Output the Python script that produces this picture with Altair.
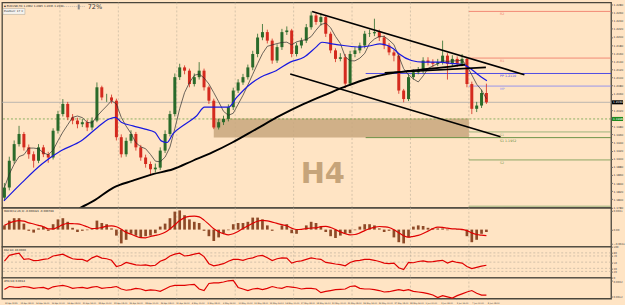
import altair as alt
import pandas as pd

# ---------------- data (prices in points of 0.0001) ----------------
first_open = 11804
closes = [11829, 11895, 11936, 11961, 11928, 11911, 11895, 11928, 11911, 11903,
          11969, 12010, 12035, 12002, 11994, 11985, 11990, 11977, 11994, 12076,
          12051, 12051, 12043, 11953, 11911, 11944, 11961, 11928, 11903, 11887,
          11874, 11878, 11920, 11961, 12010, 12101, 12125, 12117, 12084, 12101,
          12117, 12076, 12043, 11977, 11990, 11998, 12027, 12068, 12088, 12101,
          12125, 12158, 12199, 12212, 12191, 12142, 12175, 12212, 12216, 12158,
          12179, 12191, 12224, 12253, 12237, 12249, 12208, 12167, 12146, 12150,
          12085, 12158, 12167, 12179, 12208, 12209, 12212, 12199, 12179, 12162,
          12154, 12068, 12047, 12101, 12113, 12117, 12142, 12138, 12134, 12138,
          12154, 12134, 12146, 12134, 12146, 12084, 12023, 12031, 12062, 12039]
highs = [11840, 11905, 11945, 11981, 11966, 11935, 11918, 11936, 11934, 11917,
         11975, 12018, 12047, 12040, 12010, 12001, 11998, 11996, 12002, 12088,
         12080, 12060, 12058, 12048, 11960, 11952, 11970, 11966, 11934, 11910,
         11893, 11888, 11928, 11970, 12018, 12110, 12134, 12130, 12122, 12110,
         12138, 12122, 12080, 12048, 11998, 12006, 12034, 12075, 12096, 12109,
         12132, 12166, 12208, 12232, 12218, 12196, 12182, 12220, 12226, 12220,
         12186, 12198, 12232, 12263, 12258, 12258, 12254, 12213, 12172, 12160,
         12158, 12166, 12175, 12186, 12215, 12218, 12245, 12218, 12204, 12185,
         12168, 12158, 12072, 12108, 12120, 12126, 12150, 12150, 12145, 12146,
         12191, 12160, 12155, 12152, 12158, 12150, 12090, 12040, 12070, 12085]
lows = [11796, 11822, 11888, 11930, 11920, 11900, 11878, 11889, 11904, 11890,
        11898, 11962, 12004, 11995, 11985, 11975, 11978, 11968, 11970, 11990,
        12044, 12040, 12036, 11945, 11903, 11905, 11938, 11920, 11895, 11878,
        11862, 11866, 11872, 11914, 11955, 12004, 12094, 12108, 12076, 12078,
        12095, 12068, 12035, 11973, 11972, 11983, 11992, 12020, 12062, 12082,
        12095, 12118, 12150, 12192, 12184, 12134, 12136, 12168, 12205, 12150,
        12152, 12172, 12185, 12218, 12230, 12228, 12200, 12160, 12138, 12140,
        12074, 12080, 12150, 12160, 12172, 12200, 12202, 12190, 12170, 12155,
        12140, 12060, 12039, 12042, 12095, 12108, 12110, 12130, 12126, 12128,
        12132, 12095, 12128, 12126, 12128, 12076, 12010, 12015, 12025, 12035]

blue_ma_bar = [-0.1, 3.6, 7.7, 11.7, 15.8, 19.1, 21.5, 22.8, 24.0, 26.4, 28.9, 30.9, 32.2, 33.4,
               34.6, 37.1, 39.5, 41.1, 43.6, 46.0, 47.7, 50.1, 52.6, 55.8, 58.7, 61.5, 64.0,
               65.2, 67.3, 69.7, 73.0, 75.4, 77.1, 78.7, 79.9, 81.1, 83.6, 86.0, 89.3, 91.7,
               94.2, 95.4, 97.1, 99.1]
blue_ma_val = [11796, 11841, 11887, 11920, 11944, 11977, 11998, 12002, 11990, 11981, 11973,
               11965, 11944, 11940, 11961, 11985, 12006, 12027, 12027, 12027, 12051, 12080,
               12101, 12117, 12138, 12150, 12175, 12187, 12183, 12179, 12175, 12179, 12183,
               12179, 12171, 12158, 12142, 12138, 12138, 12135, 12132, 12125, 12109, 12092]
black_ma_bar = [15.4, 18.3, 22.4, 26.4, 30.5, 34.6, 38.7, 42.8, 46.8, 51.7, 56.6, 61.5, 66.4,
                70.5, 74.6, 78.7, 82.8, 86.8, 90.1, 93.4, 94.6]
black_ma_val = [11778, 11796, 11829, 11846, 11862, 11874, 11895, 11916, 11940, 11973, 12006,
                12035, 12060, 12080, 12097, 12109, 12116, 12121, 12125, 12130, 12132]

macd_hist = [7, 15, 19, 19, 10, -2, -5, 2, 5, -2,
             9, 17, 19, 13, 3, -4, -2, -1, 2, 15,
             11, 9, 2, -10, -23, -17, -7, -10, -14, -11,
             -10, -6, 5, 10, 19, 30, 32, 24, 17, 13,
             11, -2, -11, -19, -13, -6, -1, 9, 11, 11,
             13, 20, 20, 17, 7, -2, 0, 7, 9, -6,
             -7, 0, 7, 13, 11, 5, -4, -11, -14, -10,
             -7, -6, -1, 5, 9, 9, 7, 2, -4, -2,
             -13, -21, -23, -13, 5, 7, 6, 3, 2, 2,
             2, -1, 0, 1, -1, -11, -21, -17, -7, -4]
rsi_vals = [53, 72, 76, 79, 59, 61, 55, 56, 59, 61,
            70, 73, 76, 68, 61, 59, 59, 53, 64, 70,
            63, 61, 56, 36, 40, 49, 45, 41, 40, 41,
            38, 40, 53, 59, 70, 76, 79, 70, 72, 76,
            79, 68, 45, 38, 41, 45, 53, 59, 59, 56,
            61, 64, 70, 72, 64, 55, 61, 64, 63, 47,
            52, 54, 59, 64, 61, 59, 49, 47, 44, 42,
            38, 49, 54, 56, 59, 59, 56, 52, 47, 45,
            47, 32, 26, 49, 48, 52, 54, 51, 52, 54,
            56, 47, 53, 49, 47, 36, 29, 33, 37, 40]
atr_vals = [21.0, 25.0, 24.2, 23.8, 25.0, 24.2, 22.6, 23.4, 23.8, 21.8,
            24.6, 25.7, 26.5, 25.0, 22.6, 23.4, 23.8, 22.6, 24.2, 25.0,
            22.6, 23.4, 23.8, 25.0, 21.8, 20.2, 21.0, 22.6, 21.8, 19.8,
            20.6, 20.2, 18.7, 21.8, 25.0, 26.5, 26.5, 26.5, 27.3, 27.7,
            21.8, 19.8, 28.9, 29.7, 29.7, 30.8, 32.4, 32.8, 23.8, 21.8,
            19.8, 21.8, 22.6, 21.0, 22.6, 25.0, 23.4, 22.6, 25.0, 24.2,
            23.4, 21.8, 22.6, 22.6, 21.8, 17.1, 18.7, 19.8, 21.0, 21.4,
            21.8, 25.0, 25.7, 22.6, 21.8, 21.8, 21.0, 19.8, 17.9, 18.3,
            19.8, 21.0, 19.8, 21.0, 18.7, 17.9, 17.1, 15.9, 14.0, 10.8,
            13.2, 11.6, 10.0, 13.2, 15.5, 17.9, 19.8, 16.3, 14.0, 14.0]

price_ticks = [12280, 12260, 12240, 12220, 12200, 12180, 12160, 12140, 12120, 12100,
               12080, 12060, 12040, 12020, 12000, 11980, 11960, 11940, 11920, 11900,
               11880, 11860, 11840, 11820, 11800, 11780]
date_labels = ["12 Apr 2021", "13 Apr 08:00", "14 Apr 16:00", "16 Apr 00:00", "19 Apr 08:00",
               "20 Apr 16:00", "22 Apr 00:00", "23 Apr 08:00", "26 Apr 16:00", "28 Apr 00:00",
               "29 Apr 08:00", "30 Apr 16:00", "4 May 00:00", "5 May 08:00", "6 May 16:00",
               "10 May 00:00", "11 May 08:00", "12 May 16:00", "14 May 00:00", "17 May 08:00",
               "18 May 16:00", "20 May 00:00", "21 May 08:00", "24 May 16:00", "26 May 00:00",
               "27 May 08:00", "28 May 16:00", "1 Jun 00:00", "2 Jun 08:00", "3 Jun 16:00",
               "7 Jun 00:00", "8 Jun 08:00"]
grid_bars = [11.4, 23.4, 35.4, 47.4, 59.4, 71.4, 83.4, 95.4]

pivot_names = ["R2", "R1", "PP 1.2110", "MP", "S1", "S1 1.1952", "S2", "S3"]
pivot_vals = [12263, 12148, 12110, 12079, 11966, 11952, 11897, 11783]
pivot_from = [95.4, 95.4, 74.2, 95.4, 95.4, 74.2, 95.4, 95.4]
pivot_colors = ["#F0806C", "#F0806C", "#3C3CE6", "#8C8CF0", "#93AE74", "#5F8C3C", "#7FA05A", "#93AE74"]

trend_x1 = [63.2, 58.7, 78.1]
trend_p1 = [12263, 12109, 12112]
trend_x2 = [106.8, 101.9, 98.9]
trend_p2 = [12107, 11954, 12125]
zone_x = [43.0, 95.4]
zone_p = [11952, 11999]
green_level = 11998
h4_pos = [65.4, 11863]

# ---------------- frames ----------------
P = 1e-4
N = len(closes)
X_MAX = 124.6
W = 611
opens = [first_open] + closes[:-1]
cdf = pd.DataFrame({
    "i": list(range(N)),
    "open": [v * P for v in opens],
    "close": [v * P for v in closes],
    "high": [v * P for v in highs],
    "low": [v * P for v in lows],
    "dir": ["up" if c >= o else "down" for o, c in zip(opens, closes)],
})
ind = pd.DataFrame({"i": list(range(N)), "hist": macd_hist, "z": [0] * N,
                    "rsi": rsi_vals, "atr": atr_vals})
gdf = pd.DataFrame({"g": grid_bars})
one = pd.DataFrame({"a": [0]})
ddf = pd.DataFrame({"x": [0.1 + 3.2 * k for k in range(len(date_labels))], "t": date_labels})

BG = "#FFE4C4"
FONT = "DejaVu Sans"
UP, DOWN = "#2A6A2A", "#D42A1E"
xs = alt.Scale(domain=[-0.5, X_MAX], nice=False, zero=False, padding=0)
AX = dict(orient="right", labelFont=FONT, labelColor="#3a3a3a", tickSize=1.5, tickColor="#7a7a7a",
          domain=False, grid=False, title=None, labelPadding=0.5)


def X(field, axis=None):
    return alt.X(field, scale=xs, axis=axis, title=None)


def grid_layer():
    return alt.Chart(gdf).mark_rule(strokeDash=[2, 2], color="#BBAE98", strokeWidth=0.6).encode(x=X("g:Q"))


def label(txt, x, y, size=2.7, color="#222222", weight="normal", align="left"):
    return alt.Chart(one).mark_text(align=align, baseline="middle", fontSize=size, color=color,
                                    font=FONT, fontWeight=weight).encode(
        x=alt.value(x), y=alt.value(y), text=alt.value(txt))


# ---------------- main panel ----------------
ys = alt.Scale(domain=[1.1779, 1.2285], nice=False, zero=False, padding=0)
main_axis = alt.Axis(values=[v * P for v in price_ticks], format=".4f", labelFontSize=2.8, **AX)


def YM(field):
    return alt.Y(field, scale=ys, axis=main_axis, title=None)


zone = alt.Chart(pd.DataFrame({"x1": [zone_x[0]], "x2": [zone_x[1]],
                               "p1": [zone_p[0] * P], "p2": [zone_p[1] * P]})).mark_rect(
    color="#C8A77E", opacity=0.85).encode(x=X("x1:Q"), x2="x2:Q", y=YM("p1:Q"), y2="p2:Q")

h4 = alt.Chart(pd.DataFrame({"x": [h4_pos[0]], "p": [h4_pos[1] * P]})).mark_text(
    text="H4", fontSize=29, fontWeight="bold", color="#C6A47A", font=FONT).encode(
    x=X("x:Q"), y=YM("p:Q"))

cur = alt.Chart(pd.DataFrame({"p": [closes[-1] * P]})).mark_rule(
    color="#ABABAB", strokeWidth=0.8).encode(y=YM("p:Q"))
green_line = alt.Chart(pd.DataFrame({"p": [green_level * P]})).mark_rule(
    color="#5A9A3A", strokeWidth=0.7, strokeDash=[2, 2]).encode(y=YM("p:Q"))

pdf = pd.DataFrame({"name": pivot_names, "p": [v * P for v in pivot_vals],
                    "x1": pivot_from, "x2": [X_MAX] * len(pivot_vals), "lx": [101.8] * len(pivot_vals)})
pcol = alt.Color("name:N", scale=alt.Scale(domain=pivot_names, range=pivot_colors), legend=None)
pivots = alt.Chart(pdf).mark_rule(strokeWidth=0.9).encode(x=X("x1:Q"), x2="x2:Q", y=YM("p:Q"), color=pcol)
pivot_txt = alt.Chart(pdf).mark_text(align="left", baseline="top", dy=1, fontSize=3.2, font=FONT).encode(
    x=X("lx:Q"), y=YM("p:Q"), text="name:N", color=pcol)

candle_layers = []
for d, col in (("up", UP), ("down", DOWN)):
    base = alt.Chart(cdf).transform_filter(alt.datum.dir == d)
    candle_layers.append(base.mark_rule(strokeWidth=0.8, color=col).encode(
        x=X("i:Q"), y=YM("low:Q"), y2="high:Q"))
    candle_layers.append(base.mark_bar(size=3, color=col).encode(
        x=X("i:Q"), y=YM("open:Q"), y2="close:Q"))

fast_ma = alt.Chart(cdf).transform_window(ma="mean(close)", frame=[-4, 0], sort=[alt.SortField("i")]).mark_line(
    color="#2b2b2b", strokeWidth=0.7).encode(x=X("i:Q"), y=YM("ma:Q"))

blue = alt.Chart(pd.DataFrame({"x": blue_ma_bar, "p": [v * P for v in blue_ma_val]})).mark_line(
    color="#1818E0", strokeWidth=1.2, interpolate="monotone", clip=True).encode(x=X("x:Q"), y=YM("p:Q"))
black = alt.Chart(pd.DataFrame({"x": black_ma_bar, "p": [v * P for v in black_ma_val]})).mark_line(
    color="#000000", strokeWidth=1.9, interpolate="monotone", clip=True).encode(x=X("x:Q"), y=YM("p:Q"))

trend = alt.Chart(pd.DataFrame({"x1": trend_x1, "x2": trend_x2, "p1": [v * P for v in trend_p1],
                                "p2": [v * P for v in trend_p2]})).mark_rule(
    color="#000000", strokeWidth=1.6).encode(x=X("x1:Q"), x2="x2:Q", y=YM("p1:Q"), y2="p2:Q")

box_layers = []
for price, fill in ((closes[-1], "#000000"), (green_level, "#1E8A1E")):
    bdf = pd.DataFrame({"p1": [price * P - 0.0005], "p2": [price * P + 0.0005], "p": [price * P],
                        "t": [f"{price * P:.4f}"]})
    box_layers.append(alt.Chart(bdf).mark_rect(color=fill).encode(
        x=alt.value(W + 1), x2=alt.value(W + 12), y=YM("p1:Q"), y2="p2:Q"))
    box_layers.append(alt.Chart(bdf).mark_text(align="left", baseline="middle", fontSize=2.8,
                                               color="white", font=FONT).encode(
        x=alt.value(W + 2), y=YM("p:Q"), text="t:N"))

pos_box = alt.Chart(one).mark_rect(fill="#F5F2EE", stroke="#A9A190", strokeWidth=0.5).encode(
    x=alt.value(1), x2=alt.value(23), y=alt.value(6), y2=alt.value(12))
slider = alt.Chart(one).mark_rule(color="#9A9A9A", strokeWidth=0.6, strokeDash=[1, 1]).encode(
    x=alt.value(62), x2=alt.value(84), y=alt.value(4))
thumb = alt.Chart(one).mark_rect(color="#8A8A8A").encode(
    x=alt.value(76), x2=alt.value(78), y=alt.value(2), y2=alt.value(7))

o_, h_, l_, c_ = opens[-1] * P, highs[-1] * P, lows[-1] * P, closes[-1] * P
main = alt.layer(
    grid_layer(), zone, h4, cur, green_line, pivots, pivot_txt, *candle_layers, fast_ma, blue, black, trend,
    *box_layers, pos_box, slider, thumb,
    label(f"\u25AA EURUSD,H4  {o_:.4f} {h_:.4f} {l_:.4f} {c_:.4f}", 2, 3.5),
    label("Position: 17  \u00D7", 2, 9, size=2.8),
    label("72%", 86, 4.5, size=6.5, color="#333333"),
).properties(width=W, height=206)

# ---------------- MACD panel ----------------
ms = alt.Scale(domain=[-28.5, 36.3], nice=False, zero=False, padding=0)
macd_axis = alt.Axis(values=[31, 0, -24], labelFontSize=2.6,
                     labelExpr="datum.value == 0 ? '0.00' : format(datum.value / 10000, '.4f')", **AX)
hist = alt.Chart(ind).mark_bar(size=2.7, color="#8E4A28").encode(
    x=X("i:Q"), y=alt.Y("hist:Q", scale=ms, axis=macd_axis, title=None), y2="z:Q")
sig = alt.Chart(ind).transform_window(sig="mean(hist)", frame=[-5, 0], sort=[alt.SortField("i")]).mark_line(
    color="#E00000", strokeWidth=1.2, interpolate="monotone").encode(
    x=X("i:Q"), y=alt.Y("sig:Q", scale=ms, axis=macd_axis, title=None))
macd = alt.layer(grid_layer(), hist, sig, label("MACD(12,26,9) -0.000421 -0.000788", 2, 3)).properties(
    width=W, height=39)

# ---------------- RSI panel ----------------
rs = alt.Scale(domain=[0, 100], nice=False, zero=False, padding=0)
rsi_axis = alt.Axis(values=[100, 80, 70, 50, 30, 20, 0], labelFontSize=2.6, labelOverlap=False, **AX)
levels = alt.Chart(pd.DataFrame({"v": [80, 70, 50, 30, 20]})).mark_rule(
    color="#B5AA98", strokeDash=[2, 2], strokeWidth=0.6).encode(y=alt.Y("v:Q", scale=rs, axis=rsi_axis, title=None))
rsi_line = alt.Chart(ind).mark_line(color="#E00000", strokeWidth=1.2).encode(
    x=X("i:Q"), y=alt.Y("rsi:Q", scale=rs, axis=rsi_axis, title=None))
rsi = alt.layer(grid_layer(), levels, rsi_line, label(f"RSI(14) {rsi_vals[-1]:.4f}", 2, 3)).properties(
    width=W, height=31)

# ---------------- ATR panel ----------------
as_ = alt.Scale(domain=[9.5, 36.5], nice=False, zero=False, padding=0)
atr_axis = alt.Axis(values=[32, 12], labelFontSize=2.6, labelExpr="format(datum.value / 10000, '.4f')", **AX)
atr_line = alt.Chart(ind).mark_line(color="#E00000", strokeWidth=1.2).encode(
    x=X("i:Q"), y=alt.Y("atr:Q", scale=as_, axis=atr_axis, title=None))
dates = alt.Chart(ddf).mark_text(align="left", baseline="middle", fontSize=2.05, font=FONT, color="#333333").encode(
    x=X("x:Q"), y=alt.value(25), text="t:N")
date_ticks = alt.Chart(ddf).mark_rule(color="#7a7a7a", strokeWidth=0.5).encode(
    x=X("x:Q"), y=alt.value(21), y2=alt.value(22.5))
atr = alt.layer(grid_layer(), atr_line, dates, date_ticks, label(f"ATR(14) {atr_vals[-1] * P:.4f}", 2, 3)).properties(
    width=W, height=21)

chart = alt.vconcat(main, macd, rsi, atr, spacing=0, bounds="flush").properties(
    background=BG, padding={"left": 0, "top": 1, "right": 0, "bottom": 0}
).configure_view(stroke="#4A463C", strokeWidth=1.3, fill=BG)

chart.save("out.html", embed_options={"renderer": "svg", "actions": False})
